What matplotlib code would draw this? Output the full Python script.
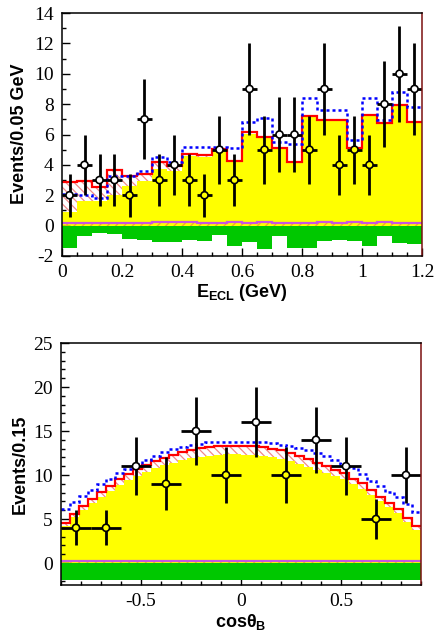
import numpy as np
import matplotlib
matplotlib.use('Agg')
import matplotlib.pyplot as plt
from matplotlib.ticker import MultipleLocator

plt.rcParams['hatch.linewidth'] = 0.9
plt.rcParams['axes.unicode_minus'] = False
plt.rcParams['mathtext.fontset'] = 'custom'
plt.rcParams['mathtext.rm'] = 'Liberation Sans:bold'
plt.rcParams['mathtext.it'] = 'Liberation Sans:bold'
plt.rcParams['mathtext.bf'] = 'Liberation Sans:bold'

# ---------------- top panel: E_ECL ----------------
e_edges = np.linspace(0.0, 1.2, 25)
e_data = [2, 4, 3, 3, 2, 7, 3, 4, 3, 2, 5, 3, 9, 5, 6, 6, 5, 9, 4, 5, 4, 8, 10, 9]
e_yellow = [0.9, 1.6, 1.6, 2.0, 2.6, 2.95, 3.7, 3.6, 4.6, 4.55, 4.95, 4.17,
            6.03, 5.77, 5.04, 4.15, 7.12, 6.9, 6.9, 5.02, 7.25, 6.68, 7.88, 6.8]
e_red = [2.85, 2.96, 2.52, 3.66, 3.29, 3.4, 4.21, 3.95, 4.72, 4.67, 5.04, 4.28,
         6.14, 5.86, 5.1, 4.21, 7.19, 6.95, 6.95, 5.1, 7.30, 6.73, 7.93, 6.84]
e_blue = [2.1, 2.0, 1.8, 3.29, 3.29, 3.6, 4.52, 4.2, 5.2, 5.15, 5.2, 5.1,
          6.85, 7.07, 5.5, 5.37, 8.38, 7.6, 7.6, 5.66, 8.38, 6.95, 8.77, 7.79]
e_magenta = [0.15, 0.15, 0.15, 0.15, 0.15, 0.15, 0.25, 0.25, 0.25, 0.18, 0.15, 0.25,
             0.18, 0.25, 0.18, 0.15, 0.15, 0.25, 0.18, 0.25, 0.18, 0.25, 0.18, 0.15]
e_green = [-1.49, -0.70, -0.48, -0.57, -0.88, -0.97, -1.10, -1.10, -0.97, -1.01, -0.61, -1.32,
           -1.10, -1.54, -0.70, -1.49, -1.49, -1.01, -0.97, -1.01, -1.36, -0.70, -1.14, -1.23]
e_green_top = -0.05

# ---------------- bottom panel: cos theta_B ----------------
c_edges = np.linspace(-0.9, 0.9, 41)
c_data_edges = np.linspace(-0.9, 0.9, 13)
c_data = [4, 4, 11, 9, 15, 10, 16, 10, 14, 11, 5, 10]
c_red = [4.6, 5.6, 6.5, 7.3, 8.1, 8.8, 9.5, 10.1, 10.65, 11.1, 11.55, 11.95, 12.3, 12.6,
         12.85, 13.05, 13.2, 13.3, 13.35, 13.35, 13.3, 13.25, 13.15, 13.0, 12.8, 12.5,
         12.15, 11.8, 11.4, 11.0, 10.6, 10.2, 9.6, 9.05, 8.3, 7.5, 6.8, 6.1, 5.1, 4.2]
c_yellow = [4.2, 5.2, 6.05, 6.8, 7.55, 8.2, 8.85, 9.4, 9.9, 10.3, 10.75, 11.1, 11.4, 11.65,
            11.9, 12.05, 12.2, 12.3, 12.35, 12.35, 12.3, 12.25, 12.15, 12.0, 11.8, 11.55,
            11.2, 10.9, 10.55, 10.2, 9.85, 9.5, 8.95, 8.45, 7.75, 7.0, 6.35, 5.65, 4.65, 3.75]
c_blue = [6.1, 6.9, 7.6, 8.3, 9.0, 9.6, 10.2, 10.7, 11.2, 11.7, 12.2, 12.6, 12.95, 13.2,
          13.4, 13.55, 13.7, 13.75, 13.8, 13.8, 13.8, 13.75, 13.7, 13.6, 13.45, 13.3,
          13.1, 12.85, 12.5, 12.15, 11.75, 11.3, 10.8, 10.1, 9.3, 8.7, 8.1, 7.5, 6.7, 5.8]
c_magenta = [0.27] * 40
c_green = [-1.95] * 40
c_green_top = -0.05

YELLOW = '#ffff00'
GREEN = '#00c800'
RED = '#ff0000'
BLUE = '#0000ff'
MAGENTA = '#c855e0'
HATCH_RED = '#f08a8a'
HATCH_ORANGE = '#f0a030'

fig = plt.figure(figsize=(4.34, 6.37), dpi=100)
ax1 = fig.add_axes([62 / 434, 1 - 256 / 637, 360 / 434, 243 / 637])
ax2 = fig.add_axes([61 / 434, 1 - 585 / 637, 360 / 434, 242 / 637])


def draw_panel(ax, edges, yellow, red, blue, magenta, green, green_top,
               dedges, data):
    yellow = np.asarray(yellow)
    red = np.asarray(red)
    n = len(yellow)
    ax.stairs(yellow, edges, baseline=0, fill=True, color=YELLOW, lw=0, zorder=1)
    ax.stairs(magenta, edges, baseline=0, fill=True, facecolor='none',
              edgecolor=HATCH_ORANGE, hatch='////', lw=0, zorder=2)
    ax.stairs(magenta, edges, baseline=None, color=MAGENTA, lw=1.6, zorder=3)
    ax.stairs(red, edges, baseline=yellow, fill=True, facecolor='none',
              edgecolor=HATCH_RED, hatch='\\\\\\\\', lw=0, zorder=2)
    ax.stairs(red, edges, baseline=None, color=RED, lw=1.6, zorder=4)
    ax.stairs(blue, edges, baseline=None, color=BLUE, lw=1.8,
              linestyle=(0, (1.2, 1.2)), zorder=5)
    ax.stairs(green, edges, baseline=np.full(n, green_top), fill=True,
              color=GREEN, lw=0, zorder=2)

    dedges = np.asarray(dedges)
    xc = 0.5 * (dedges[:-1] + dedges[1:])
    xe = 0.5 * (dedges[1:] - dedges[:-1])
    data = np.asarray(data, dtype=float)
    ax.errorbar(xc, data, xerr=xe, yerr=np.sqrt(data), fmt='none',
                ecolor='black', elinewidth=2.0, capsize=0, zorder=6)
    # marker face shows what lies behind it
    idx = np.clip(np.searchsorted(edges, xc) - 1, 0, n - 1)
    faces = [YELLOW if d < yellow[i] else 'white' for d, i in zip(data, idx)]
    ax.scatter(xc, data, s=26, facecolors=faces, edgecolors='black',
               linewidths=1.2, zorder=7)


draw_panel(ax1, e_edges, e_yellow, e_red, e_blue, e_magenta, e_green, e_green_top,
           e_edges, e_data)
draw_panel(ax2, c_edges, c_yellow, c_red, c_blue, c_magenta, c_green, c_green_top,
           c_data_edges, c_data)

ax1.set_xlim(0, 1.2)
ax1.set_ylim(-2, 14)
ax1.xaxis.set_major_locator(MultipleLocator(0.2))
ax1.xaxis.set_minor_locator(MultipleLocator(0.05))
ax1.yaxis.set_major_locator(MultipleLocator(2))
ax1.yaxis.set_minor_locator(MultipleLocator(1))
ax1.set_xticks([0, 0.2, 0.4, 0.6, 0.8, 1.0, 1.2])
ax1.set_xticklabels(['0', '0.2', '0.4', '0.6', '0.8', '1', '1.2'])

ax2.set_xlim(-0.9, 0.9)
ax2.set_ylim(-2.5, 25)
ax2.set_xticks([-0.5, 0, 0.5])
ax2.set_xticklabels(['-0.5', '0', '0.5'])
ax2.xaxis.set_minor_locator(MultipleLocator(0.1))
ax2.yaxis.set_major_locator(MultipleLocator(5))
ax2.yaxis.set_minor_locator(MultipleLocator(1))

for ax in (ax1, ax2):
    ax.tick_params(which='both', direction='in', top=False, right=False)
    ax.tick_params(which='major', length=5.5, width=1.0, labelsize=14, pad=6)
    ax.tick_params(which='minor', length=3, width=1.0)
    for lab in ax.get_xticklabels() + ax.get_yticklabels():
        lab.set_fontfamily('Liberation Serif')
    for sp in ax.spines.values():
        sp.set_linewidth(1.1)
        sp.set_zorder(10)
    ax.spines['right'].set_color('#7a1010')
    ax.set_facecolor('white')

lab_kw = dict(fontsize=13, fontweight='bold', fontfamily='Liberation Sans')
fig.text(20 / 434, 1 - 134 / 637, 'Events/0.05 GeV', rotation=90,
         ha='center', va='center', **lab_kw)
fig.text(20 / 434, 1 - 464 / 637, 'Events/0.15', rotation=90,
         ha='center', va='center', **lab_kw)
fig.text(242 / 434, 1 - 297 / 637, 'E$_{\\rm ECL}$ (GeV)', ha='center',
         va='baseline', **lab_kw)
fig.text(241 / 434, 1 - 627 / 637, 'cosθ$_{\\rm B}$', ha='center',
         va='baseline', **lab_kw)

fig.savefig('out.png', dpi=100)
